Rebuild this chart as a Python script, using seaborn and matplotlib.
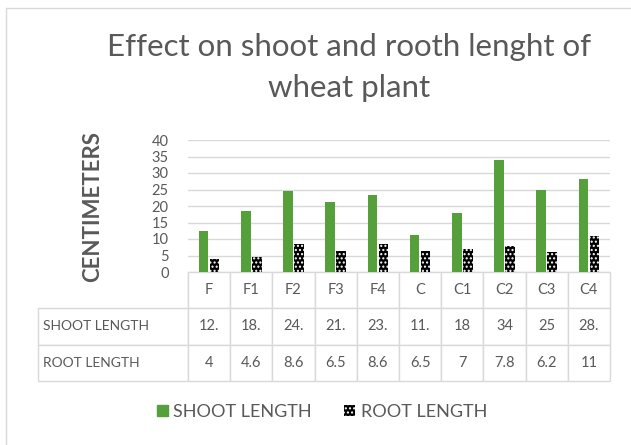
import numpy as np
import pandas as pd
import matplotlib
matplotlib.use('Agg')
import matplotlib.pyplot as plt
import seaborn as sns
from matplotlib.patches import Patch

categories = ['F', 'F1', 'F2', 'F3', 'F4', 'C', 'C1', 'C2', 'C3', 'C4']
shoot_length = [12.4, 18.4, 24.6, 21.1, 23.3, 11.3, 18, 34, 25, 28.2]
root_length = [4, 4.6, 8.6, 6.5, 8.6, 6.5, 7, 7.8, 6.2, 11]
shoot_labels = ['12.', '18.', '24.', '21.', '23.', '11.', '18', '34', '25', '28.']
root_labels = ['4', '4.6', '8.6', '6.5', '8.6', '6.5', '7', '7.8', '6.2', '11']
series = ['SHOOT LENGTH', 'ROOT LENGTH']
yticks = [0, 5, 10, 15, 20, 25, 30, 35, 40]

df = pd.DataFrame({
    'cat': categories * 2,
    'series': [series[0]] * len(categories) + [series[1]] * len(categories),
    'value': shoot_length + root_length,
})

sns.set_style('white')
plt.rcParams['font.family'] = ['Lato', 'DejaVu Sans']
plt.rcParams['hatch.linewidth'] = 1.0
grey = '#595959'
line_grey = '#d9d9d9'
green = '#56a03b'

W, H = 631, 445
fig = plt.figure(figsize=(W / 100, H / 100), dpi=100)
# plot area in pixels
x0, x1, y0, y1 = 188, 610, 140, 272
ax = fig.add_axes([x0 / W, 1 - y1 / H, (x1 - x0) / W, (y1 - y0) / H])

sns.barplot(data=df, x='cat', y='value', hue='series', order=categories,
            hue_order=series, palette=[green, 'black'], width=0.52, gap=0.12,
            ax=ax, legend=False, saturation=1)

for bar in ax.containers[1]:
    bar.set_hatch('....')
    bar.set_edgecolor('white')
    bar.set_linewidth(0)
for bar in ax.containers[0]:
    bar.set_linewidth(0)

ax.set_ylim(0, 40)
ax.set_yticks(yticks)
ax.set_xlim(-0.5, len(categories) - 0.5)
ax.grid(axis='y', color=line_grey, linewidth=1)
ax.set_axisbelow(True)
for s in ax.spines.values():
    s.set_visible(False)
ax.set_xticks([])
ax.set_xlabel('')
ax.set_ylabel('')
ax.tick_params(axis='y', length=0, labelsize=10.5, labelcolor=grey, pad=14)

fig.text(93 / W, 1 - 207 / H, 'CENTIMETERS', rotation=90, ha='center',
         va='center', fontsize=16, fontweight='bold', color=grey)

# data table under the plot
label_w = (x1 - 38) / (x1 - x0) - 1
cell_text = [[''] + categories,
             [series[0]] + shoot_labels,
             [series[1]] + root_labels]
col_w = [label_w] + [1 / len(categories)] * len(categories)
tbl = ax.table(cellText=cell_text, colWidths=col_w, cellLoc='center',
               bbox=[-label_w, -(381 - 272) / (y1 - y0), 1 + label_w,
                     (381 - 272) / (y1 - y0)])
tbl.auto_set_font_size(False)
for (r, c), cell in tbl.get_celld().items():
    cell.set_edgecolor(line_grey)
    cell.set_linewidth(1)
    cell.get_text().set_fontsize(10.5 if c > 0 else 10)
    cell.get_text().set_color(grey)
    if c == 0:
        cell.get_text().set_ha('left')
        cell.PAD = 0.03
    if r == 0 and c == 0:
        cell.visible_edges = 'R'

# title
fig.text(349 / W, 1 - 47 / H, 'Effect on shoot and rooth lenght of',
         ha='center', va='center', fontsize=22.5, color=grey)
fig.text(349 / W, 1 - 88 / H, 'wheat plant', ha='center', va='center',
         fontsize=22.5, color=grey)

# legend
handles = [Patch(facecolor=green, edgecolor=green),
           Patch(facecolor='black', edgecolor='white', hatch='....', linewidth=0)]
fig.legend(handles, series, loc='center', bbox_to_anchor=(322 / W, 1 - 412 / H),
           ncol=2, frameon=False, fontsize=13, labelcolor=grey,
           handlelength=0.6, handleheight=0.6, handletextpad=0.3,
           columnspacing=1.8)

# chart border
fig.add_artist(plt.Line2D([6 / W, 6 / W], [0, 1 - 8 / H], color=line_grey,
                          linewidth=1, transform=fig.transFigure))
fig.add_artist(plt.Line2D([6 / W, 1], [1 - 8 / H, 1 - 8 / H], color=line_grey,
                          linewidth=1, transform=fig.transFigure))

fig.savefig('out.png', dpi=100)
